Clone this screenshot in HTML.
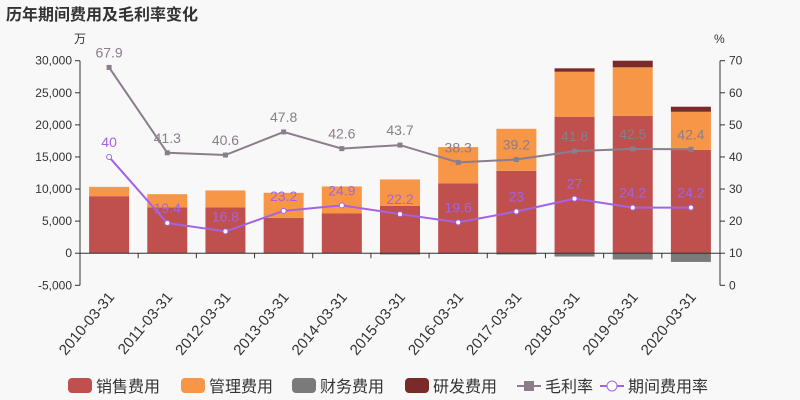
<!DOCTYPE html>
<html><head><meta charset="utf-8"><style>
body{margin:0;background:#f8f8f8;}
svg{display:block;font-family:"Liberation Sans","Noto Sans CJK SC",sans-serif;}
</style></head><body>
<svg id="c" width="800" height="400" viewBox="0 0 800 400">
<rect width="800" height="400" fill="#f8f8f8"/>
<text x="6" y="20" font-size="16" font-weight="bold" fill="#333">历年期间费用及毛利率变化</text>
<text x="74" y="43" font-size="12" fill="#333">万</text>
<text x="714" y="43" font-size="12" fill="#333">%</text>
<g id="g"></g>
</svg>
<script>
const categories=["2010-03-31","2011-03-31","2012-03-31","2013-03-31","2014-03-31","2015-03-31","2016-03-31","2017-03-31","2018-03-31","2019-03-31","2020-03-31"];
const sales=[8890,7120,7120,5510,6190,7390,10870,12840,21270,21420,16120];
const admin=[1450,2080,2660,3900,4210,4110,5670,6550,7010,7550,5920];
const finance=[0,0,0,-50,-50,-200,-100,-200,-520,-980,-1360];
const rnd=[0,0,0,0,0,0,0,0,530,1030,790];
const grossMargin=[67.9,41.3,40.6,47.8,42.6,43.7,38.3,39.2,41.8,42.5,42.4];
const expenseRate=[40,19.4,16.8,23.2,24.9,22.2,19.6,23,27,24.2,24.2];
const leftTicks=[-5000,0,5000,10000,15000,20000,25000,30000];
const rightTicks=[0,10,20,30,40,50,60,70];

const NS="http://www.w3.org/2000/svg";
const g=document.getElementById('g');
const X0=80,X1=720,YT=60.7,YB=285.3;
const yL=v=>YB-(v+5000)/35000*(YB-YT);
const yR=v=>YB-v/70*(YB-YT);
const step=(X1-X0)/categories.length;
const xC=i=>X0+step*(i+0.5);
function el(t,a,p){const e=document.createElementNS(NS,t);for(const k in a)e.setAttribute(k,a[k]);(p||g).appendChild(e);return e;}
const fmt=v=>v.toLocaleString('en-US');

// axes
let ax=el('line',{x1:X0,y1:YT,x2:X0,y2:YB,stroke:'#333'});


ax=el('line',{x1:X1,y1:YT,x2:X1,y2:YB,stroke:'#333'});


leftTicks.forEach(v=>{
  const y=yL(v);
  el('line',{x1:X0-5,y1:y,x2:X0,y2:y,stroke:'#333'});
  const t=el('text',{x:X0-8,y:y+4,'font-size':12,fill:'#333','text-anchor':'end'});
  t.textContent=fmt(v);
  
  
});
rightTicks.forEach(v=>{
  const y=yR(v);
  el('line',{x1:X1,y1:y,x2:X1+5,y2:y,stroke:'#333'});
  const t=el('text',{x:X1+9,y:y+4,'font-size':12,fill:'#333'});
  t.textContent=v;
  
  
});
// bars
const bw=40;
categories.forEach((c,i)=>{
  const x=xC(i)-bw/2;
  const s=[[0,sales[i],'#c0504d','bar-sales'],[sales[i],sales[i]+admin[i],'#f79646','bar-admin'],[sales[i]+admin[i],sales[i]+admin[i]+rnd[i],'#7b2a2a','bar-rnd'],[finance[i],0,'#7a7a7a','bar-finance']];
  s.forEach(([a,b,col,n])=>{
    if(b-a<=0)return;
    const r=el('rect',{x:x,y:yL(b),width:bw,height:yL(a)-yL(b),fill:col});
    
    
  });
  const t=el('text',{transform:`translate(${xC(i)+6},${YB+12}) rotate(-50)`,'font-size':15,fill:'#333','text-anchor':'end'});
  t.textContent=c;
  
  
});
// zero line
el('line',{x1:X0,y1:yL(0),x2:X1,y2:yL(0),stroke:'#333'});
categories.forEach((c,i)=>{el('line',{x1:X0+step*i,y1:yL(0),x2:X0+step*i,y2:yL(0)+5,stroke:'#333'});});
// lines
function series(vals,col,name,marker){
  const p=el('polyline',{points:vals.map((v,i)=>xC(i)+','+yR(v)).join(' '),fill:'none',stroke:col,'stroke-width':2});
  
  
  vals.forEach((v,i)=>{
    let m;
    if(marker==='sq')m=el('rect',{x:xC(i)-2.5,y:yR(v)-2.5,width:5,height:5,fill:col});
    else m=el('circle',{cx:xC(i),cy:yR(v),r:2.5,fill:'#fff',stroke:col,'stroke-width':1});
    
    
    const t=el('text',{x:xC(i),y:yR(v)-10,'font-size':14,fill:col,'text-anchor':'middle'});
    t.textContent=v;
    
    
  });
}
series(grossMargin,'#8b7d8b','gross-margin','sq');
series(expenseRate,'#a463e6','expense-rate','c');
// legend
const leg=[['销售费用','#c0504d','b'],['管理费用','#f79646','b'],['财务费用','#7a7a7a','b'],['研发费用','#7b2a2a','b'],['毛利率','#8b7d8b','sq'],['期间费用率','#a463e6','c']];
const lx=[68,181,292,405,517,600];
leg.forEach(([n,c,t],i)=>{
  const x=lx[i],y=386;
  if(t==='b'){const r=el('rect',{x:x,y:y-8,width:24,height:15,rx:4,fill:c});}
  else{el('line',{x1:x,y1:y,x2:x+24,y2:y,stroke:c,'stroke-width':2});
    if(t==='sq')el('rect',{x:x+7,y:y-5,width:10,height:10,fill:c});
    else el('circle',{cx:x+12,cy:y,r:5,fill:'#fff',stroke:c});}
  const tx=el('text',{x:x+28,y:y+6,'font-size':16,fill:'#333'});
  tx.textContent=n;
  
  
});
</script>
</body></html>
